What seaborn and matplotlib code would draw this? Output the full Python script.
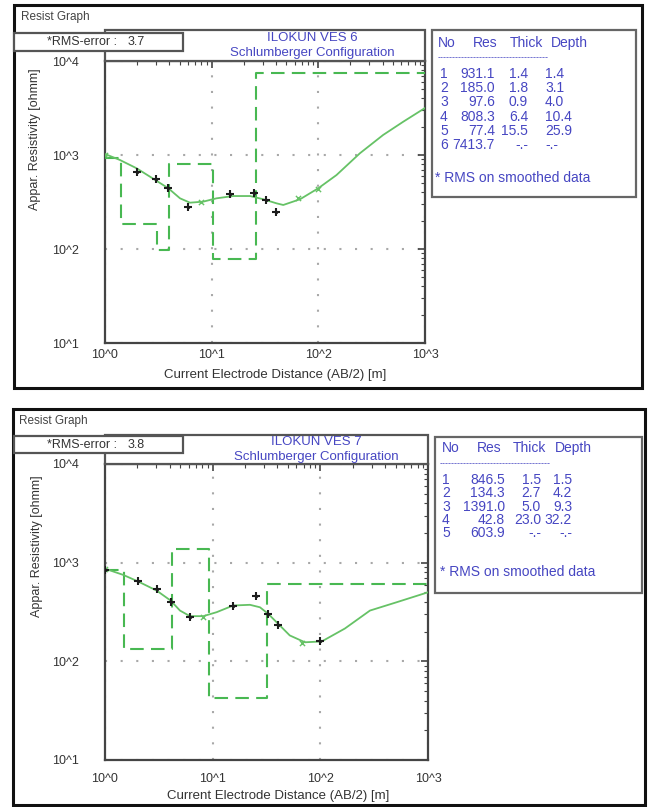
import matplotlib

matplotlib.use("Agg")
import matplotlib.pyplot as plt
import pandas as pd
import seaborn as sns
from matplotlib.patches import Rectangle
from matplotlib.ticker import FixedFormatter, FixedLocator, LogLocator, NullFormatter

# axis decades
ab2_ticks = [1, 10, 100, 1000]
ab2_tick_labels = ["10^0", "10^1", "10^2", "10^3"]
rho_ticks = [10, 100, 1000, 10000]
rho_tick_labels = ["10^1", "10^2", "10^3", "10^4"]

# ILOKUN VES 6 - layered model
ves6_res = [931.1, 185.0, 97.6, 808.3, 77.4, 7413.7]
ves6_thick = [1.4, 1.8, 0.9, 6.4, 15.5]
ves6_depth = [1.4, 3.1, 4.0, 10.4, 25.9]
ves6_rms = 3.7
# observed soundings
ves6_obs_ab2 = [2.0, 3.0, 3.9, 6.0, 15.0, 25.0, 32.0, 40.0]
ves6_obs_rho = [664, 551, 443, 282, 385, 397, 332, 248]
# smoothed / calculated marks
ves6_calc_ab2 = [1.0, 8.0, 64.0, 100.0]
ves6_calc_rho = [1010, 315, 345, 440]
# model response curve
ves6_fit_ab2 = [1.0, 1.38, 1.98, 2.64, 3.92, 5.05, 6.26, 8.34, 11.1, 15.9, 22.9,
                30.5, 40.6, 46.9, 67.3, 100, 148, 245, 405, 625, 1000]
ves6_fit_rho = [1025, 885, 722, 588, 443, 346, 311, 319, 346, 366, 366,
                338, 306, 294, 338, 443, 612, 1042, 1633, 2259, 3162]

# ILOKUN VES 7 - layered model
ves7_res = [846.5, 134.3, 1391.0, 42.8, 603.9]
ves7_thick = [1.5, 2.7, 5.0, 23.0]
ves7_depth = [1.5, 4.2, 9.3, 32.2]
ves7_rms = 3.8
ves7_obs_ab2 = [1.0, 2.04, 3.02, 4.07, 6.15, 15.3, 25.2, 32.4, 40.6, 100.0]
ves7_obs_rho = [849, 658, 542, 404, 280, 368, 457, 303, 231, 160]
ves7_calc_ab2 = [1.0, 8.1, 67.0]
ves7_calc_rho = [870, 280, 152]
ves7_fit_ab2 = [1.0, 1.48, 2.04, 3.02, 4.07, 4.97, 6.15, 8.18, 10.9, 15.5, 22.2,
                27.5, 32.8, 40.6, 52, 72, 103, 169, 289, 511, 1000]
ves7_fit_rho = [869, 751, 643, 521, 413, 327, 287, 287, 315, 368, 374,
                353, 303, 240, 183, 156, 159, 215, 327, 397, 501]

W, H = 652, 807
DASH_GREEN = "#48b852"
CURVE_GREEN = "#66c266"
BLUE_TEXT = "#4646c2"
GRAY_TEXT = "#333333"


def px_box(l, t, r, b):
    return [l / W, 1 - b / H, (r - l) / W, (b - t) / H]


def table_rows(res, thick, depth):
    rows = []
    for i, r in enumerate(res):
        if i < len(thick):
            rows.append((str(i + 1), f"{r:.1f}", f"{thick[i]:.1f}", f"{depth[i]:.1f}"))
        else:
            rows.append((str(i + 1), f"{r:.1f}", "-.-", "-.-"))
    return rows


def draw_panel(fig, deco, lay, name, res, thick, depth, rms,
               obs_x, obs_y, calc_x, calc_y, fit_x, fit_y):
    # outer window frame
    l, t, r, b = lay["frame"]
    deco.add_patch(Rectangle((l, t), r - l, b - t, fill=False, ec="#111111", lw=2.2))
    deco.text(lay["caption_x"], lay["caption_y"], "Resist Graph", fontsize=8.5,
              color="#444444", va="center", ha="left")

    ax = fig.add_axes(px_box(*lay["axes"]))
    ax.set(xscale="log", yscale="log")

    step = pd.DataFrame({"ab2": [1.0] + depth + [1000.0], "rho": res + [res[-1]]})
    sns.lineplot(data=step, x="ab2", y="rho", ax=ax, color=DASH_GREEN, lw=1.5,
                 linestyle=(0, (6.5, 3.5)), drawstyle="steps-post",
                 estimator=None, sort=False, zorder=3)
    fit = pd.DataFrame({"ab2": fit_x, "rho": fit_y})
    sns.lineplot(data=fit, x="ab2", y="rho", ax=ax, color=CURVE_GREEN, lw=1.3,
                 estimator=None, sort=False, zorder=4)
    sns.scatterplot(x=calc_x, y=calc_y, ax=ax, marker="x", s=14, color=CURVE_GREEN,
                    linewidth=1.0, zorder=5)
    sns.scatterplot(x=obs_x, y=obs_y, ax=ax, marker="+", s=36, color="#1c1c1c",
                    linewidth=1.5, zorder=6)
    sns.scatterplot(x=obs_x, y=obs_y, ax=ax, marker="o", s=6, color="#1c1c1c",
                    linewidth=0, zorder=6)

    ax.set_xlim(ab2_ticks[0], ab2_ticks[-1])
    ax.set_ylim(rho_ticks[0], rho_ticks[-1])
    ax.set_xlabel("")
    ax.set_ylabel("")
    ax.xaxis.set_major_locator(FixedLocator(ab2_ticks))
    ax.xaxis.set_major_formatter(FixedFormatter(ab2_tick_labels))
    ax.yaxis.set_major_locator(FixedLocator(rho_ticks))
    ax.yaxis.set_major_formatter(FixedFormatter(rho_tick_labels))
    for axis in (ax.xaxis, ax.yaxis):
        axis.set_minor_locator(LogLocator(base=10, subs=range(2, 10)))
        axis.set_minor_formatter(NullFormatter())
    ax.tick_params(which="both", direction="in", top=True, right=True,
                   color="#444444", labelsize=9, labelcolor=GRAY_TEXT)
    ax.tick_params(which="major", length=5, width=1.2)
    ax.tick_params(which="minor", length=3, width=0.8)
    ax.tick_params(axis="x", pad=lay["xpad"])
    ax.tick_params(axis="y", pad=lay["ypad"])
    ax.grid(True, which="major", color="#a8a8a8", linestyle=(0, (1, 6.5)), linewidth=1.5)
    ax.set_axisbelow(True)
    for sp in ax.spines.values():
        sp.set_color("#444444")
        sp.set_linewidth(1.6)

    deco.text(*lay["xlabel_xy"], "Current Electrode Distance (AB/2) [m]", fontsize=9.5,
              color=GRAY_TEXT, ha="center", va="center")
    deco.text(*lay["ylabel_xy"], "Appar. Resistivity [ohmm]", fontsize=9, rotation=90,
              color=GRAY_TEXT, ha="center", va="center")

    # title box
    l, t, r, b = lay["title_box"]
    deco.add_patch(Rectangle((l, t), r - l, b - t, fc="white", ec="#555555", lw=1.6))
    cx = lay["title_cx"]
    deco.text(cx, lay["title_y"][0], name, fontsize=9.5, color=BLUE_TEXT,
              ha="center", va="center")
    deco.text(cx, lay["title_y"][1], "Schlumberger Configuration", fontsize=9.5,
              color=BLUE_TEXT, ha="center", va="center")

    # rms box
    l, t, r, b = lay["rms_box"]
    deco.add_patch(Rectangle((l, t), r - l, b - t, fc="white", ec="#555555", lw=1.6,
                             zorder=4))
    ym = (t + b) / 2
    deco.text(47, ym, "*RMS-error :", fontsize=9, color=GRAY_TEXT, va="center", zorder=5)
    deco.text(128, ym, f"{rms:.1f}", fontsize=9, color=GRAY_TEXT, va="center", zorder=5)

    # layer table
    l, t, r, b = lay["table_box"]
    deco.add_patch(Rectangle((l, t), r - l, b - t, fc="white", ec="#666666", lw=1.6))
    for word, x in zip(["No", "Res", "Thick", "Depth"], lay["head_x"]):
        deco.text(x, lay["header_y"], word, fontsize=10, color=BLUE_TEXT, va="center")
    deco.text(lay["dash_x"], lay["dash_y"], "-" * 37, fontsize=6.5, color=BLUE_TEXT,
              va="center")
    cx = lay["col_x"]
    for i, row in enumerate(table_rows(res, thick, depth)):
        y = lay["row_y0"] + i * lay["row_dy"]
        deco.text(cx[0], y, row[0], fontsize=10, color=BLUE_TEXT, va="center", ha="left")
        deco.text(cx[1], y, row[1], fontsize=10, color=BLUE_TEXT, va="center", ha="right")
        deco.text(cx[2], y, row[2], fontsize=10, color=BLUE_TEXT, va="center", ha="right")
        deco.text(cx[3], y, row[3], fontsize=10, color=BLUE_TEXT, va="center",
                  ha=lay["depth_ha"])
    deco.text(lay["foot_x"], lay["foot_y"], "* RMS on smoothed data", fontsize=10,
              color=BLUE_TEXT, va="center")


def main() -> None:
    sns.set_style("white")
    plt.rcParams["font.family"] = ["Liberation Sans", "DejaVu Sans"]

    fig = plt.figure(figsize=(W / 100, H / 100), dpi=100, facecolor="white")
    deco = fig.add_axes([0, 0, 1, 1], zorder=10)
    deco.set_xlim(0, W)
    deco.set_ylim(H, 0)
    deco.axis("off")
    deco.patch.set_alpha(0)

    top = {
        "frame": (14, 5, 642, 388), "caption_x": 21, "caption_y": 17,
        "axes": (105, 61, 425, 343), "xpad": 4.5, "ypad": 19,
        "xlabel_xy": (275, 375), "ylabel_xy": (35, 139),
        "title_box": (105, 30, 425, 61), "title_y": (38, 53), "title_cx": 312,
        "rms_box": (14, 33, 183, 51),
        "table_box": (432, 30, 636, 197), "head_x": (438, 473, 510, 551),
        "header_y": 43, "dash_x": 438, "dash_y": 58,
        "row_y0": 74, "row_dy": 14.2, "col_x": (440, 495, 528, 545), "depth_ha": "left",
        "foot_x": 435, "foot_y": 178,
    }
    bottom = {
        "frame": (13, 409, 645, 805), "caption_x": 19, "caption_y": 421,
        "axes": (105, 464, 428, 760), "xpad": 9.5, "ypad": 19,
        "xlabel_xy": (278, 796), "ylabel_xy": (37, 546),
        "title_box": (105, 435, 428, 464), "title_y": (442, 457), "title_cx": 316,
        "rms_box": (14, 436, 183, 453),
        "table_box": (435, 437, 642, 593), "head_x": (442, 477, 513, 555),
        "header_y": 448, "dash_x": 440, "dash_y": 464,
        "row_y0": 480, "row_dy": 13.3, "col_x": (442, 505, 541, 572), "depth_ha": "right",
        "foot_x": 440, "foot_y": 572,
    }

    draw_panel(fig, deco, top, "ILOKUN VES 6", ves6_res, ves6_thick, ves6_depth, ves6_rms,
               ves6_obs_ab2, ves6_obs_rho, ves6_calc_ab2, ves6_calc_rho,
               ves6_fit_ab2, ves6_fit_rho)
    draw_panel(fig, deco, bottom, "ILOKUN VES 7", ves7_res, ves7_thick, ves7_depth, ves7_rms,
               ves7_obs_ab2, ves7_obs_rho, ves7_calc_ab2, ves7_calc_rho,
               ves7_fit_ab2, ves7_fit_rho)

    fig.savefig("out.png", dpi=100)
    plt.close(fig)


if __name__ == "__main__":
    main()
